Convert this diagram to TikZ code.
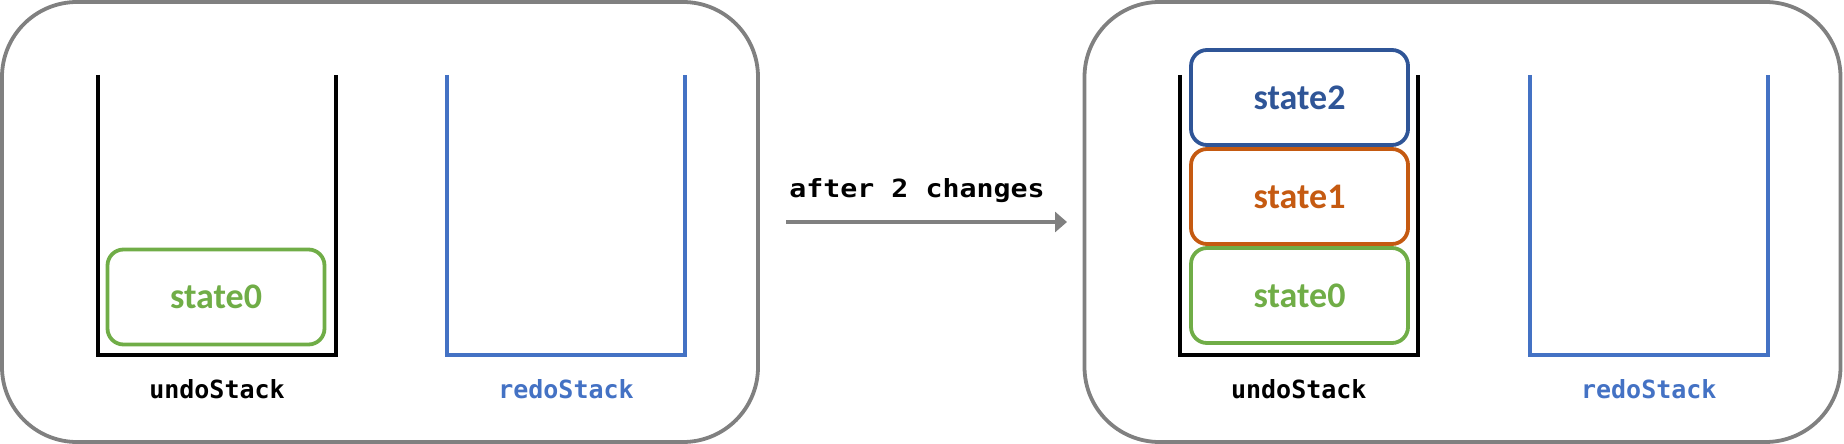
\documentclass[tikz,border=0pt]{standalone}
\usepackage{fontspec}
\setmainfont{Carlito}
\newfontfamily\codefont{DejaVu Sans Mono}
\usetikzlibrary{arrows.meta}
\definecolor{cgreen}{HTML}{70AD47}
\definecolor{corange}{HTML}{C55A11}
\definecolor{cdblue}{HTML}{2F5597}
\definecolor{cblue}{HTML}{4472C4}
\definecolor{cgray}{HTML}{808080}
\tikzset{
  panel/.style={draw=cgray, line width=3.8pt, rounded corners=75pt, minimum width=756pt, minimum height=440pt, inner sep=0pt},
  statebox/.style={draw=#1, text=#1, line width=3.8pt, rounded corners=16pt, minimum width=217pt, minimum height=95pt, inner sep=0pt, font=\fontsize{36}{40}\selectfont\bfseries},
  stackline/.style={line width=4pt, line cap=butt, line join=miter},
  codelabel/.style={font=\codefont\fontsize{25}{28}\selectfont\bfseries, anchor=base, inner sep=0pt},
  flowarrow/.style={draw=cgray, line width=3.4pt, -{Triangle[length=12pt,width=20pt]}}
}
\begin{document}
\begin{tikzpicture}[x=1pt,y=-1pt]
\useasboundingbox (0,0) rectangle (1844,444);
% panels
\node[panel] (lp) at (380,222) {};
\node[panel] (rp) at (1462.5,222) {};
% left panel stacks
\draw[stackline, black] (97.8,75) -- (97.8,354.5) -- (336,354.5) -- (336,75);
\draw[stackline, cblue] (446.8,75) -- (446.8,354.5) -- (685,354.5) -- (685,75);
\node[statebox=cgreen] (ls0) at (216,297) {state0};
\node[codelabel] (lundo) at (217,398) {undoStack};
\node[codelabel, text=cblue] (lredo) at (566,398) {redoStack};
% arrow
\coordinate (astart) at (786,222);
\coordinate (aend) at (1067,222);
\draw[flowarrow] (astart) -- (aend);
\node[codelabel] (alabel) at (917,197) {\scalebox{1.13}[1]{after 2 changes}};
% right panel stacks
\draw[stackline, black] (1179.8,75) -- (1179.8,354.5) -- (1417.8,354.5) -- (1417.8,75);
\draw[stackline, cblue] (1529.8,75) -- (1529.8,354.5) -- (1767.8,354.5) -- (1767.8,75);
\node[statebox=cdblue] (rs2) at (1299.5,97.5) {state2};
\node[statebox=corange] (rs1) at (1299.5,196.5) {state1};
\node[statebox=cgreen] (rs0) at (1299.5,295.5) {state0};
\node[codelabel] (rundo) at (1298.8,398) {undoStack};
\node[codelabel, text=cblue] (rredo) at (1648.8,398) {redoStack};
\end{tikzpicture}
\end{document}
